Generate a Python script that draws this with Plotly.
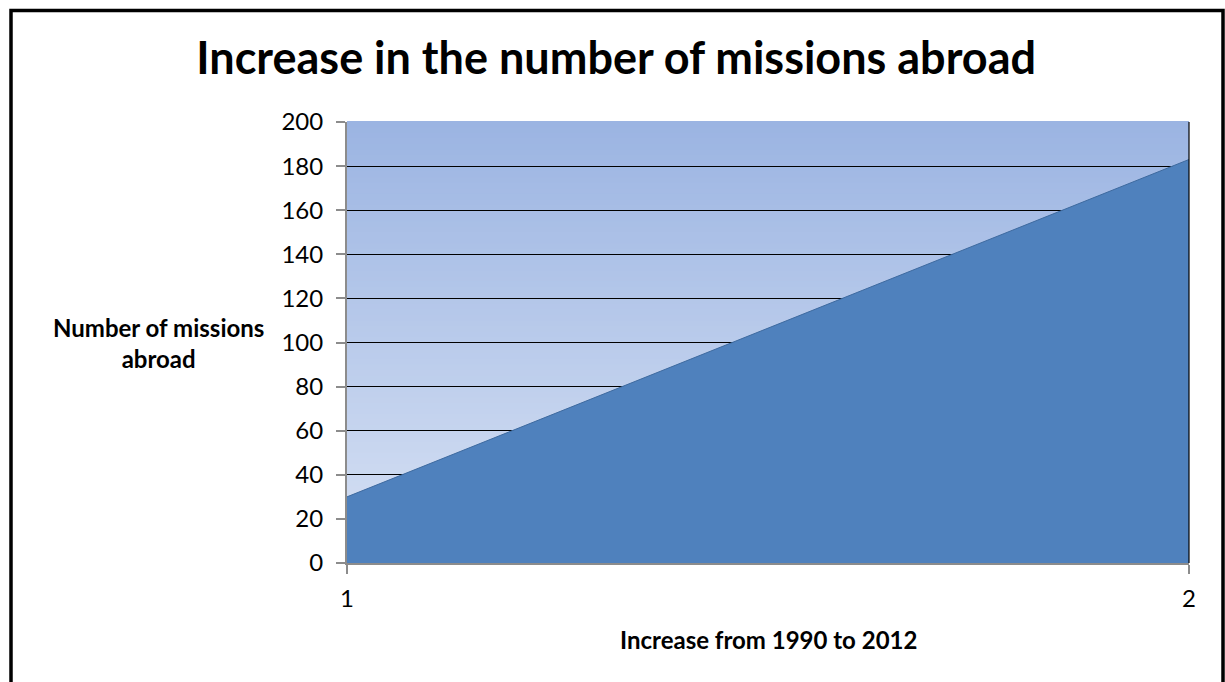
import plotly.graph_objects as go

# Data
x_vals = [1, 2]
missions = [30, 183]
y_ticks = [0, 20, 40, 60, 80, 100, 120, 140, 160, 180, 200]
x_ticks = [1, 2]

W, H = 1225, 682
L, R, T, B = 347, 1189, 122, 563

fig = go.Figure()
fig.add_trace(go.Scatter(
    x=x_vals, y=missions, mode="lines", fill="tozeroy",
    fillcolor="#4F81BD", line=dict(color="#3E6A9F", width=1),
    hoverinfo="skip", showlegend=False,
))

shapes = []
# gradient background in plot area
top_c = (0x9B, 0xB4, 0xE2)
bot_c = (0xD8, 0xE2, 0xF4)
n = 80
for i in range(n):
    t = i / n
    c = tuple(round(bot_c[k] + (top_c[k] - bot_c[k]) * (t + 0.5 / n)) for k in range(3))
    shapes.append(dict(type="rect", xref="x domain", yref="y domain",
                       x0=0, x1=1, y0=t, y1=(i + 1) / n + 0.002,
                       fillcolor="rgb(%d,%d,%d)" % c, line=dict(width=0), layer="below"))
# right border of plot area
shapes.append(dict(type="line", xref="x domain", yref="y domain", x0=1, x1=1, y0=0, y1=1,
                   line=dict(color="black", width=1.2), layer="above"))
# outer frame
def px_x(p):
    return (p - L) / (R - L)
def px_y(p):
    return (B - p) / (B - T)
shapes.append(dict(type="rect", xref="paper", yref="paper",
                   x0=px_x(11), x1=px_x(1223), y0=px_y(720), y1=px_y(10.5),
                   line=dict(color="black", width=3.5), fillcolor="rgba(0,0,0,0)", layer="above"))

fig.update_layout(
    width=W, height=H,
    margin=dict(l=L, r=W - R, t=T, b=H - B),
    paper_bgcolor="white", plot_bgcolor="rgba(0,0,0,0)",
    font=dict(family="Lato, Open Sans, sans-serif", color="black"),
    title=dict(text="<b>Increase in the number of missions abroad</b>",
               x=0.503, xanchor="center", y=1 - 58 / H, yanchor="middle",
               font=dict(size=45, family="Lato, sans-serif", color="black")),
    shapes=shapes,
    showlegend=False,
)
fig.update_xaxes(
    range=[1, 2], tickvals=x_ticks, ticktext=[str(v) for v in x_ticks],
    showgrid=False, zeroline=False, showline=True, linecolor="#8C8C8C", linewidth=2,
    ticks="outside", ticklen=9, tickcolor="#8C8C8C", tickwidth=1.5,
    ticklabelstandoff=4,
    tickfont=dict(size=24, family="Lato, sans-serif"),
)
fig.update_yaxes(
    range=[0, 200], tickvals=y_ticks,
    showgrid=True, gridcolor="black", gridwidth=1.2, zeroline=False,
    showline=True, linecolor="#8C8C8C", linewidth=2,
    ticks="outside", ticklen=9, tickcolor="#8C8C8C", tickwidth=1.5,
    ticklabelstandoff=8,
    tickfont=dict(size=24, family="Lato, sans-serif"),
)
fig.add_annotation(
    text="<b>Number of missions<br>abroad</b>", xref="paper", yref="paper",
    x=px_x(158), y=px_y(343), xanchor="center", yanchor="middle", showarrow=False,
    font=dict(size=24, family="Lato, sans-serif"), align="center",
)
fig.add_annotation(
    text="<b>Increase from 1990 to 2012</b>", xref="paper", yref="paper",
    x=px_x(768), y=px_y(639), xanchor="center", yanchor="middle", showarrow=False,
    font=dict(size=24, family="Lato, sans-serif"), align="center",
)

fig.write_html("out.html")
